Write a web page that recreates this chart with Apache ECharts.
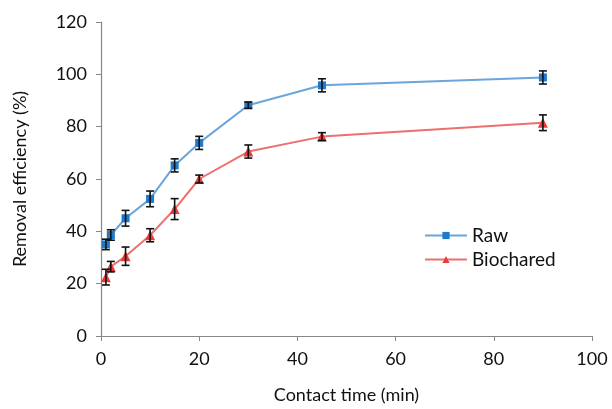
<!DOCTYPE html>
<html>
<head>
<meta charset="utf-8">
<script src="https://cdn.jsdelivr.net/npm/echarts@6/dist/echarts.min.js"></script>
<style>
  html, body { margin: 0; padding: 0; background: #fff; }
  #chart { width: 612px; height: 409px; }
</style>
</head>
<body>
<div id="chart"></div>
<script>
// contact time (min)
var times = [1, 2, 5, 10, 15, 20, 30, 45, 90];
// removal efficiency (%)
var rawVals = [35, 38.6, 45, 52.4, 65.2, 73.8, 88.2, 95.8, 98.8];
var rawErr = [2, 2, 3, 3, 2.5, 2.5, 1.2, 2.5, 2.5];
var bioVals = [22.5, 26.5, 30.5, 38.5, 48.5, 60, 70.5, 76.2, 81.5];
var bioErr = [3, 2, 3.5, 2.5, 4, 1.5, 2.5, 1.5, 3];

var fontName = 'Lato';

function errData(vals, errs) {
    return times.map(function (t, i) {
        return [t, vals[i] - errs[i], vals[i] + errs[i]];
    });
}

function errBars(params, api) {
    var x = api.value(0);
    var lo = api.coord([x, api.value(1)]);
    var hi = api.coord([x, api.value(2)]);
    var w = 4;
    var st = { stroke: '#111', lineWidth: 1.6 };
    return {
        type: 'group',
        children: [
            { type: 'line', shape: { x1: lo[0], y1: lo[1], x2: hi[0], y2: hi[1] }, style: st },
            { type: 'line', shape: { x1: lo[0] - w, y1: lo[1], x2: lo[0] + w, y2: lo[1] }, style: st },
            { type: 'line', shape: { x1: hi[0] - w, y1: hi[1], x2: hi[0] + w, y2: hi[1] }, style: st }
        ]
    };
}

var mychart = echarts.init(document.getElementById('chart'));
var option = {
    backgroundColor: '#fff',
    animation: false,
    grid: { left: 101, right: 20, top: 22, bottom: 72 },
    legend: {
        orient: 'vertical',
        left: 419,
        top: 221,
        itemWidth: 42,
        itemHeight: 9,
        itemGap: 5,
        data: ['Raw', 'Biochared'],
        textStyle: { fontFamily: fontName, fontSize: 19, color: '#111' }
    },
    xAxis: {
        type: 'value',
        min: 0, max: 100, interval: 20,
        name: 'Contact time (min)',
        nameLocation: 'middle',
        nameGap: 50,
        nameTextStyle: { fontFamily: fontName, fontSize: 18, color: '#111' },
        axisLine: { lineStyle: { color: '#888', width: 1.2 } },
        axisTick: { length: 5, lineStyle: { color: '#888' } },
        axisLabel: { fontFamily: fontName, fontSize: 18, color: '#111', margin: 14 },
        splitLine: { show: false }
    },
    yAxis: {
        type: 'value',
        min: 0, max: 120, interval: 20,
        name: 'Removal efficiency (%)',
        nameLocation: 'middle',
        nameGap: 72,
        nameTextStyle: { fontFamily: fontName, fontSize: 18, color: '#111' },
        axisLine: { show: true, lineStyle: { color: '#888', width: 1.2 } },
        axisTick: { show: true, length: 5, lineStyle: { color: '#888' } },
        axisLabel: { fontFamily: fontName, fontSize: 18, color: '#111', margin: 14 },
        splitLine: { show: false }
    },
    series: [
        {
            name: 'Raw',
            type: 'line',
            data: times.map(function (t, i) { return [t, rawVals[i]]; }),
            symbol: 'rect',
            symbolSize: 8,
            itemStyle: { color: '#1f78c8' },
            lineStyle: { color: '#6aa5dc', width: 2 },
            z: 3
        },
        {
            name: 'Biochared',
            type: 'line',
            data: times.map(function (t, i) { return [t, bioVals[i]]; }),
            symbol: 'triangle',
            symbolSize: 10,
            itemStyle: { color: '#e83c3c' },
            lineStyle: { color: '#ec7070', width: 2 },
            z: 3
        },
        {
            type: 'custom',
            renderItem: errBars,
            data: errData(rawVals, rawErr),
            z: 4
        },
        {
            type: 'custom',
            renderItem: errBars,
            data: errData(bioVals, bioErr),
            z: 4
        }
    ]
};
mychart.setOption(option);
</script>
</body>
</html>
